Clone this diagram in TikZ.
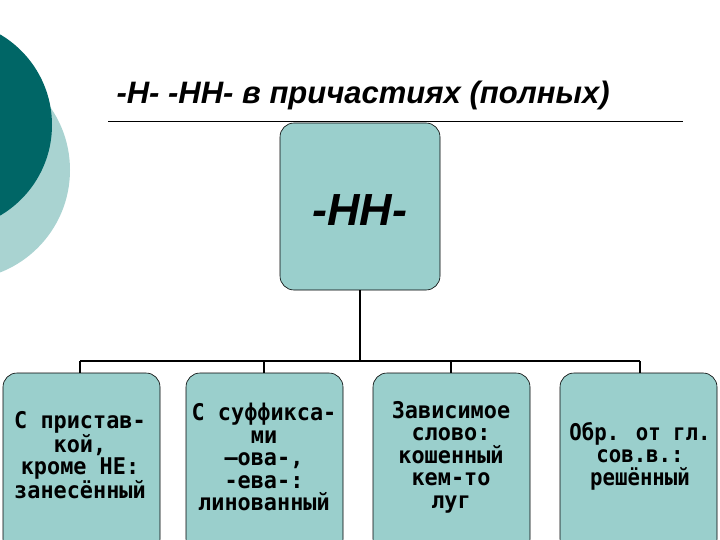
\documentclass[tikz,border=0pt]{standalone}
\usepackage{fontspec}
\setmainfont{Liberation Sans}
\newfontfamily\mono{DejaVu Sans Mono}
\definecolor{boxfill}{HTML}{9ACFCC}
\definecolor{darkteal}{HTML}{006666}
\definecolor{lightteal}{HTML}{A9D3D1}
\tikzset{
  bx/.style={draw=black, fill=boxfill, rounded corners=14pt, line width=0.6pt},
  lbl/.style={font=\mono\bfseries\fontsize{23}{22.5}\selectfont, align=center},
  ln/.style={line width=1.2pt}
}
\begin{document}
\begin{tikzpicture}[x=1pt,y=-1pt]
\useasboundingbox (0,0) rectangle (720,540);
\fill[white] (0,0) rectangle (720,540);
\begin{scope}
\clip (0,0) rectangle (720,540);
\fill[lightteal] (-40,170) circle (110);
\fill[darkteal] (-53,125) circle (105);
\end{scope}
\node[font=\bfseries\itshape\fontsize{31}{34}\selectfont, anchor=west] (title) at (113,95) {-Н- -НН- в причастиях (полных)};
\draw[line width=0.5pt] (108,121) -- (683,121);
\node[bx, minimum width=160, minimum height=167] (top) at (360,206.5) {};
\node[font=\bfseries\itshape\fontsize{45}{48}\selectfont] (toplbl) at (360,210) {-НН-};
\node[bx, minimum width=157, minimum height=180] (b1) at (81.5,463) {};
\node[bx, minimum width=157, minimum height=180] (b2) at (264.5,463) {};
\node[bx, minimum width=157, minimum height=180] (b3) at (451.5,463) {};
\node[bx, minimum width=157, minimum height=180] (b4) at (638.5,463) {};
\node[lbl, xscale=0.95] at (80,455) {С пристав-\\кой,\\кроме НЕ:\\занесённый};
\node[lbl, xscale=0.95] at (264,457) {С суффикса-\\ми\\–ова-,\\-ева-:\\линованный};
\node[lbl, xscale=0.95] at (451,457) {Зависимое\\слово:\\кошенный\\кем-то\\луг};
\node[lbl, xscale=0.9] at (640,456) {Обр. от гл.\\сов.в.:\\решённый};
\coordinate (j) at (360,361);
\draw[ln] (top.south) -- (j);
\draw[ln] (80,361) -- (640,361);
\draw[ln] (80,361) -- (b1.north -| 80,0);
\draw[ln] (264,361) -- (b2.north -| 264,0);
\draw[ln] (451,361) -- (b3.north -| 451,0);
\draw[ln] (640,361) -- (b4.north -| 640,0);
\end{tikzpicture}
\end{document}
